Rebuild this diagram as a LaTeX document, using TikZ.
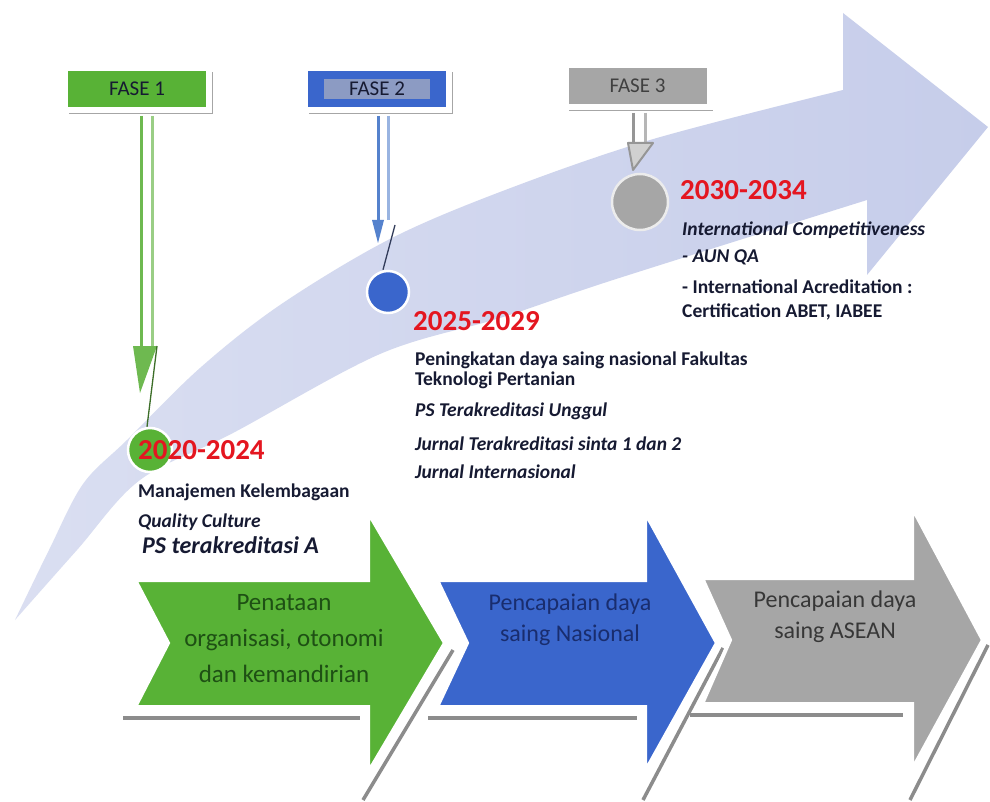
\documentclass[tikz,border=0pt]{standalone}
\usepackage{fontspec}
\setmainfont{Carlito}
\usetikzlibrary{calc,shadows}
\definecolor{band}{RGB}{198,205,234}
\definecolor{gfill}{RGB}{88,178,54}
\definecolor{bfill}{RGB}{58,102,204}
\definecolor{grfill}{RGB}{166,166,166}
\definecolor{hl}{RGB}{140,155,195}
\definecolor{redt}{RGB}{228,22,32}
\definecolor{navy}{RGB}{22,26,50}
\definecolor{gline}{RGB}{110,185,80}
\definecolor{dkg}{RGB}{60,110,40}
\definecolor{bline}{RGB}{85,130,205}
\definecolor{dkb}{RGB}{50,60,90}
\definecolor{gyline}{RGB}{150,150,150}
\definecolor{gtxt}{RGB}{30,80,20}
\definecolor{btxt}{RGB}{25,45,110}
\definecolor{gytxt}{RGB}{55,55,55}
\definecolor{shad}{RGB}{140,140,140}
\begin{document}
\begin{tikzpicture}[x=1pt,y=-1pt,
  yr/.style={anchor=base west, inner sep=0, text=redt, font=\bfseries\fontsize{29}{32}\selectfont},
  txt/.style={anchor=base west, inner sep=0, text=navy, font=\bfseries\fontsize{19.5}{22}\selectfont},
  itxt/.style={anchor=base west, inner sep=0, text=navy, font=\bfseries\itshape\fontsize{19.5}{22}\selectfont},
  fasebox/.style={draw=white, line width=6pt, minimum width=144pt, minimum height=42pt, inner sep=0,
     font=\fontsize{21}{24}\selectfont,
     drop shadow={shadow xshift=3.8pt, shadow yshift=-3.8pt, fill=black!35, opacity=1}},
  dot/.style={circle, draw=white, line width=2.5pt, inner sep=0},
  chevron/.style={draw=white, line width=4pt, line join=miter},
  chevshadow/.style={draw=shad, line width=3.5pt},
  ctext/.style={align=center, inner sep=0},
  conn/.style={line width=3pt},
  thin/.style={line width=1.3pt},
]
\useasboundingbox (0,0) rectangle (990,802);
\fill[white] (0,0) rectangle (990,802);

% big curved arrow
\shade[left color=band!65!white, right color=band]
  plot[smooth, tension=0.55] coordinates {(15,620) (49,550) (83,484) (127,440) (200,368) (280,305) (388,240) (500,192) (650,140) (843,90)}
  -- (843,13) -- (988,127) -- (867,275) -- (867,200)
  -- plot[smooth, tension=0.55] coordinates {(867,200) (613,280) (500,318) (380,354) (233,433) (140,480) (77,550) (15,620)}
  -- cycle;

% chevron shadows (thin offset lines)
\draw[chevshadow] (123,718) -- (360,718);
\draw[chevshadow] (453,650) -- (363,800);
\draw[chevshadow] (428,718) -- (637,718);
\draw[chevshadow] (723,648) -- (643,800);
\draw[chevshadow] (690,715) -- (903,715);
\draw[chevshadow] (988,645) -- (910,800);
% chevrons
\filldraw[chevron, fill=gfill] (135,580) -- (368,580) -- (368,512) -- (445,643) -- (368,773) -- (368,707) -- (135,707) -- (168,643) -- cycle;
\filldraw[chevron, fill=bfill] (437,580) -- (645,580) -- (645,512) -- (717,643) -- (645,772) -- (645,707) -- (437,707) -- (467,643) -- cycle;
\filldraw[chevron, fill=grfill] (702,578) -- (912,578) -- (912,507) -- (983,640) -- (912,770) -- (912,704) -- (702,704) -- (730,640) -- cycle;

\node[ctext, text=gtxt, font=\fontsize{25}{36}\selectfont] (g1t) at (284,639) {Penataan\\organisasi, otonomi\\dan kemandirian};
\node[ctext, text=btxt, font=\fontsize{24}{31}\selectfont] (b1t) at (570,620) {Pencapaian daya\\saing Nasional};
\node[ctext, text=gytxt, font=\fontsize{24}{31}\selectfont] (gy1t) at (835,617) {Pencapaian daya\\saing ASEAN};

% FASE boxes
\node[fasebox, fill=gfill, text=navy] (f1) at (137,89) {FASE 1};
\node[fasebox, fill=bfill] (f2) at (377,89) {};
\node[fill=hl, minimum width=106pt, minimum height=20pt, inner sep=0, font=\fontsize{21}{24}\selectfont, text=navy] (f2t) at (f2.center) {FASE 2};
\node[fasebox, fill=grfill, text=black!75] (f3) at (637.5,86) {FASE 3};

% circles
\node[dot, fill=gfill, minimum size=44pt] (c1) at (150,450) {};
\node[dot, fill=bfill, minimum size=42pt] (c2) at (388,292) {};
\node[dot, fill=grfill, minimum size=56pt, draw=white!85!gray] (c3) at (640,202) {};

% connectors FASE 1
\draw[conn, gline] ($(f1.south)+(4,3)$) -- ($(f1.south)+(4,233)$);
\draw[conn, gline!70] ($(f1.south)+(15,3)$) -- ($(f1.south)+(15,233)$);
\fill[gline] ($(f1.south)+(-4,233)$) -- ($(f1.south)+(20,233)$) -- ($(f1.south)+(3,280)$) -- cycle;
\draw[thin, dkg] ($(f1.south)+(20,233)$) -- ($(c1.north)+(-3,0)$);

% connectors FASE 2
\draw[conn, bline] ($(f2.south)+(1,3)$) -- ($(f2.south)+(1,107)$);
\draw[conn, bline!60] ($(f2.south)+(11,3)$) -- ($(f2.south)+(11,107)$);
\fill[bline] ($(f2.south)+(-5,107)$) -- ($(f2.south)+(7,107)$) -- ($(f2.south)+(1,130)$) -- cycle;
\draw[thin, dkb] ($(f2.south)+(18,112)$) -- ($(c2.north)+(-5,0)$);

% connectors FASE 3
\draw[conn, gyline] ($(f3.south)+(-4.5,3)$) -- ($(f3.south)+(-4.5,33)$);
\draw[conn, gyline!70] ($(f3.south)+(7.5,3)$) -- ($(f3.south)+(7.5,33)$);
\filldraw[gyline, fill=gyline!45, line width=2pt, line join=round] ($(f3.south)+(-9.5,33)$) -- ($(f3.south)+(15.5,33)$) -- ($(f3.south)+(-4.5,60)$) -- cycle;

% texts phase 1
\node[yr] (y1) at (138,459) {2020-2024};
\node[txt] (t11) at (138,497) {Manajemen Kelembagaan};
\node[itxt] (t12) at (138,527) {Quality Culture};
\node[itxt, font=\bfseries\itshape\fontsize{24}{26}\selectfont] (t13) at (142,553) {PS terakreditasi A};

% texts phase 2
\node[yr] (y2) at (413,330) {2025-2029};
\node[txt] (t21) at (415,365) {Peningkatan daya saing nasional Fakultas};
\node[txt] (t22) at (415,385) {Teknologi Pertanian};
\node[itxt] (t23) at (415,416) {PS Terakreditasi Unggul};
\node[itxt] (t24) at (415,450) {Jurnal Terakreditasi sinta 1 dan 2};
\node[itxt] (t25) at (415,478) {Jurnal Internasional};

% texts phase 3
\node[yr] (y3) at (680,200) {2030-2034};
\node[itxt] (t31) at (682,236) {International Competitiveness};
\node[itxt] (t32) at (682,263) {- AUN QA};
\node[txt] (t33) at (682,293) {- International Acreditation :};
\node[txt] (t34) at (682,317) {Certification ABET, IABEE};
\end{tikzpicture}
\end{document}
